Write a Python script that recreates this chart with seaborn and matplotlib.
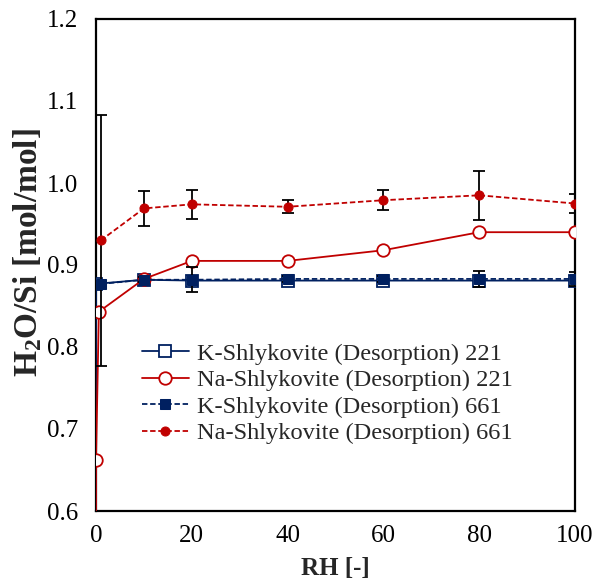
import matplotlib
matplotlib.use("Agg")
import matplotlib.pyplot as plt
import seaborn as sns
import pandas as pd
import numpy as np
from matplotlib.ticker import MultipleLocator

# ---- data ----
rh_k221 = [0, 0, 10, 20, 40, 60, 80, 100]
k221 = [0.0, 0.877, 0.882, 0.881, 0.881, 0.881, 0.881, 0.881]

rh_na221 = [0, 0, 0.6, 10, 20, 40, 60, 80, 100]
na221 = [0.0, 0.662, 0.843, 0.883, 0.905, 0.905, 0.918, 0.940, 0.940]

rh_661 = [1, 10, 20, 40, 60, 80, 100]
k661 = [0.877, 0.882, 0.882, 0.883, 0.883, 0.883, 0.883]
k661_err = [0.0, 0.003, 0.015, 0.004, 0.004, 0.010, 0.008]
na661 = [0.930, 0.969, 0.974, 0.971, 0.979, 0.985, 0.975]
na661_err = [0.153, 0.021, 0.018, 0.008, 0.012, 0.030, 0.012]

labels = ["K-Shlykovite (Desorption) 221", "Na-Shlykovite (Desorption) 221",
          "K-Shlykovite (Desorption) 661", "Na-Shlykovite (Desorption) 661"]

NAVY = "#002060"
RED = "#C00000"

sns.set_theme(style="white")
plt.rcParams["font.family"] = ["Liberation Serif", "DejaVu Serif"]
plt.rcParams["mathtext.fontset"] = "custom"
plt.rcParams["mathtext.rm"] = "Liberation Serif:bold"
plt.rcParams["mathtext.bf"] = "Liberation Serif:bold"
plt.rcParams["mathtext.default"] = "bf"

fig = plt.figure(figsize=(5.96, 5.81), dpi=100)
ax = fig.add_axes([96/596, 1-511/581, (575-96)/596, (511-19)/581])

df_k221 = pd.DataFrame({"RH": rh_k221, "v": k221})
df_na221 = pd.DataFrame({"RH": rh_na221, "v": na221})
df_661 = pd.DataFrame({"RH": rh_661, "k": k661, "ke": k661_err,
                       "na": na661, "nae": na661_err})

lw = 1.3
sns.lineplot(data=df_k221, x="RH", y="v", ax=ax, estimator=None, sort=False,
             color=NAVY, lw=lw, marker="s", markersize=8.5,
             markerfacecolor="white", markeredgecolor=NAVY, markeredgewidth=1.3,
             label=labels[0], zorder=3)
sns.lineplot(data=df_na221, x="RH", y="v", ax=ax, estimator=None, sort=False,
             color=RED, lw=lw, marker="o", markersize=9,
             markerfacecolor="white", markeredgecolor=RED, markeredgewidth=1.3,
             label=labels[1], zorder=3)
ax.errorbar(df_661["RH"], df_661["k"], yerr=df_661["ke"], fmt="none",
            ecolor="black", elinewidth=1.3, capsize=4, capthick=1.3, zorder=3.2)
sns.lineplot(data=df_661, x="RH", y="k", ax=ax, estimator=None, sort=False,
             color=NAVY, lw=lw, linestyle=(0, (3, 1.5)), marker="s", markersize=6.5,
             markerfacecolor=NAVY, markeredgecolor=NAVY, label=labels[2], zorder=4)
ax.errorbar(df_661["RH"], df_661["na"], yerr=df_661["nae"], fmt="none",
            ecolor="black", elinewidth=1.3, capsize=4, capthick=1.3, zorder=3.2)
sns.lineplot(data=df_661, x="RH", y="na", ax=ax, estimator=None, sort=False,
             color=RED, lw=lw, linestyle=(0, (3, 1.5)), marker="o", markersize=6.5,
             markerfacecolor=RED, markeredgecolor=RED, label=labels[3], zorder=4)

ax.set_xlim(0, 100)
ax.set_ylim(0.6, 1.2)
ax.xaxis.set_major_locator(MultipleLocator(20))
ax.xaxis.set_minor_locator(MultipleLocator(4))
ax.yaxis.set_major_locator(MultipleLocator(0.1))
ax.yaxis.set_minor_locator(MultipleLocator(0.02))
ax.yaxis.set_major_formatter(matplotlib.ticker.FormatStrFormatter("%.1f"))

ax.tick_params(axis="both", which="both", direction="in", colors="black",
               labelsize=18, top=False, right=False)
ax.tick_params(axis="x", which="major", length=6, width=1.3, pad=10)
ax.tick_params(axis="x", which="minor", length=4, width=1.3)
ax.tick_params(axis="y", which="major", length=5, width=1.3, pad=13)
ax.tick_params(axis="y", which="minor", length=5, width=1.3)

for s in ax.spines.values():
    s.set_color("black")
    s.set_linewidth(1.6)

ax.set_xlabel("RH [-]", fontsize=18, fontweight="bold", labelpad=7)
ax.set_ylabel("H$_2$O/Si [mol/mol]", fontsize=24, fontweight="bold")
ax.yaxis.set_label_coords(-0.108, 0.526)

leg = ax.legend(loc="upper left", bbox_to_anchor=(0.095, 0.342), frameon=False,
                fontsize=17.6, handlelength=1.95, handletextpad=0.3,
                labelspacing=0.18, borderaxespad=0, borderpad=0)

fig.savefig("out.png", dpi=100)
